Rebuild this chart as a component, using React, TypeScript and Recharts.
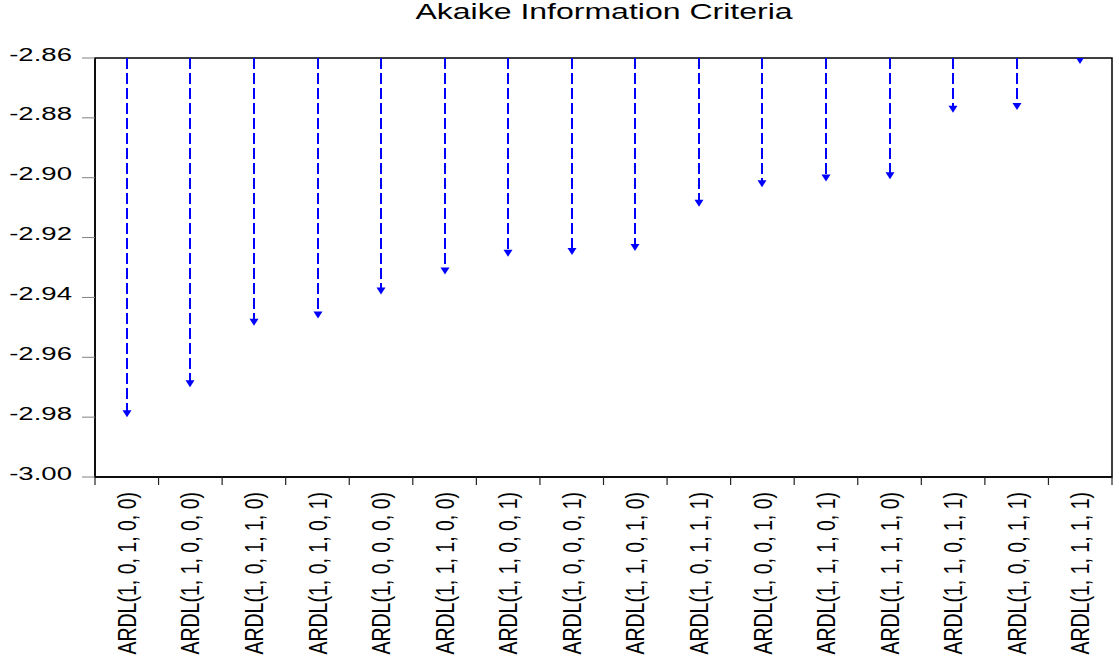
import { BarChart, Bar, XAxis, YAxis, ReferenceArea } from 'recharts'

const models = [
  'ARDL(1, 0, 1, 0, 0)',
  'ARDL(1, 1, 0, 0, 0)',
  'ARDL(1, 0, 1, 1, 0)',
  'ARDL(1, 0, 1, 0, 1)',
  'ARDL(1, 0, 0, 0, 0)',
  'ARDL(1, 1, 1, 0, 0)',
  'ARDL(1, 1, 0, 0, 1)',
  'ARDL(1, 0, 0, 0, 1)',
  'ARDL(1, 1, 0, 1, 0)',
  'ARDL(1, 0, 1, 1, 1)',
  'ARDL(1, 0, 0, 1, 0)',
  'ARDL(1, 1, 1, 0, 1)',
  'ARDL(1, 1, 1, 1, 0)',
  'ARDL(1, 1, 0, 1, 1)',
  'ARDL(1, 0, 0, 1, 1)',
  'ARDL(1, 1, 1, 1, 1)',
]

const aicValues = [
  -2.980, -2.970, -2.9495, -2.947, -2.939, -2.9323, -2.9264, -2.9258,
  -2.9245, -2.9097, -2.9032, -2.9013, -2.9005, -2.8783, -2.8774, -2.862,
]

const yTicks = [-3.0, -2.98, -2.96, -2.94, -2.92, -2.9, -2.88, -2.86]

const BLUE = '#0000ff'
const FONT = '"Liberation Sans", Arial, sans-serif'

const data = models.map((name, i) => ({ name, pos: i + 0.5, aic: aicValues[i] }))
// integer positions = band edges (tick marks), half positions = labels
const xTicks = Array.from({ length: models.length * 2 + 1 }, (_, i) => i / 2)

function Arrow(props: any) {
  const { x, y, width, height } = props
  const cx = Math.round(x + width / 2)
  const top = Math.min(y, y + height)
  const tip = Math.max(y, y + height)
  const head = 7
  return (
    <g>
      {tip - head > top && (
        <line x1={cx} y1={top} x2={cx} y2={tip - head + 1} stroke={BLUE} strokeWidth={2} strokeDasharray="11 4" />
      )}
      <polygon points={`${cx - 4.5},${tip - head} ${cx + 4.5},${tip - head} ${cx},${tip}`} fill={BLUE} />
    </g>
  )
}

function XTick(props: any) {
  const { x, y, payload } = props
  const v = payload.value as number
  if (Number.isInteger(v)) {
    return <line x1={x} y1={y} x2={x} y2={y + 8} stroke="#222" strokeWidth={1.2} />
  }
  const label = models[Math.floor(v)]
  return (
    <text
      transform={`translate(${x},${y + 15}) scale(1.3,1) rotate(-90)`}
      textAnchor="end"
      dy="0.36em"
      fontFamily={FONT}
      fontSize={19.5}
      fill="#000"
    >
      {label}
    </text>
  )
}

function YTick(props: any) {
  const { x, y, payload } = props
  return (
    <text
      transform={`translate(${x},${y}) scale(1.49,1)`}
      textAnchor="end"
      dy={2.6}
      fontFamily={FONT}
      fontSize={18.5}
      fill="#000"
    >
      {(payload.value as number).toFixed(2)}
    </text>
  )
}

export default function App() {
  return (
    <div style={{ position: 'relative', width: 1119, height: 665, background: '#fff' }}>
      <style>{'body{margin:0;background:#fff}'}</style>
      <div
        style={{
          position: 'absolute',
          left: 604,
          top: 1,
          transform: 'translateX(-50%) scaleX(1.455)',
          fontFamily: FONT,
          fontSize: 22,
          lineHeight: '22px',
          whiteSpace: 'nowrap',
          color: '#000',
        }}
      >
        Akaike Information Criteria
      </div>
      <BarChart width={1119} height={665} data={data} margin={{ top: 58, right: 7, bottom: 0, left: 0 }}>
        <XAxis
          dataKey="pos"
          type="number"
          domain={[0, models.length]}
          ticks={xTicks}
          interval={0}
          tickLine={false}
          tickSize={0}
          tickMargin={0}
          tick={<XTick />}
          height={188}
          axisLine={{ stroke: '#000', strokeWidth: 1.5 }}
        />
        <YAxis
          type="number"
          domain={[-3.0, -2.86]}
          ticks={yTicks}
          interval={0}
          width={95}
          tickSize={13}
          tickMargin={10}
          tickLine={{ stroke: '#808080' }}
          tick={<YTick />}
          axisLine={{ stroke: '#000', strokeWidth: 1.5 }}
          allowDataOverflow
        />
        {/* plot frame */}
        <ReferenceArea
          x1={0}
          x2={models.length}
          y1={-3.0}
          y2={-2.86}
          fill="#fff"
          fillOpacity={0}
          stroke="#000"
          strokeWidth={1.5}
        />
        <Bar dataKey="aic" shape={<Arrow />} isAnimationActive={false} />
      </BarChart>
    </div>
  )
}
